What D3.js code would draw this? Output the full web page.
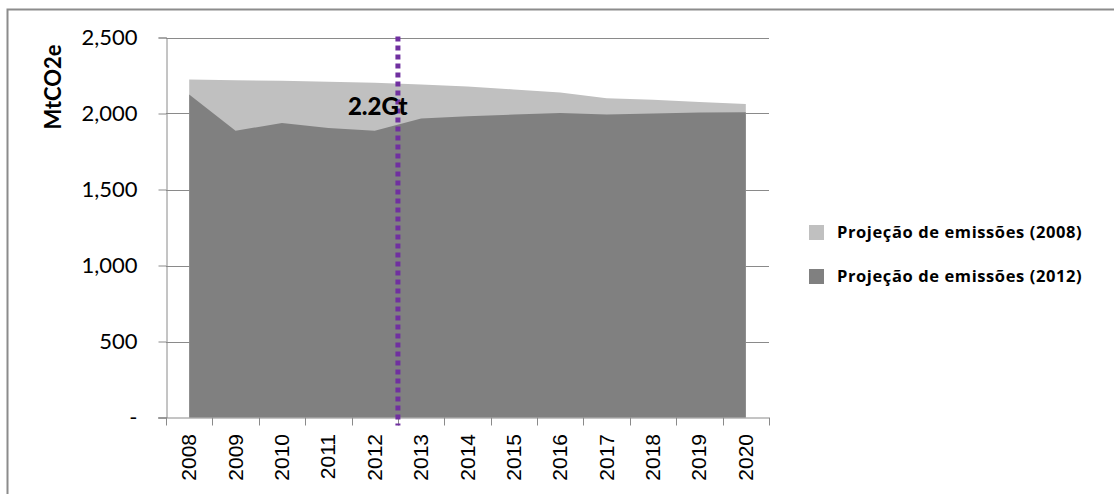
<!DOCTYPE html>
<html>
<head>
<meta charset="utf-8">
<script src="https://cdn.jsdelivr.net/npm/d3@7"></script>
<style>
  html, body { margin: 0; padding: 0; background: #fff; }
  svg { display: block; }
</style>
</head>
<body>
<svg id="chart" width="1114" height="494"></svg>
<script>
// Anos da projeção
const years = ["2008","2009","2010","2011","2012","2013","2014","2015","2016","2017","2018","2019","2020"];
// Projeção de emissões feita em 2008 (MtCO2e)
const proj2008 = [2223, 2219, 2215, 2209, 2202, 2190, 2177, 2158, 2138, 2100, 2090, 2076, 2063];
// Projeção de emissões feita em 2012 (MtCO2e)
const proj2012 = [2125, 1886, 1938, 1905, 1886, 1967, 1982, 1993, 2004, 1993, 2000, 2006, 2008];
// Valores do eixo vertical
const yTicks = [0, 500, 1000, 1500, 2000, 2500];
const seriesNames = ["Projeção de emissões (2008)", "Projeção de emissões (2012)"];
const markerYear = "2013";
const markerLabel = "2.2Gt";

const svg = d3.select("#chart");
const plotLeft = 166, plotRight = 769, plotTop = 37.5, plotBottom = 417.5;

const x = d3.scaleBand().domain(years).range([plotLeft, plotRight]).padding(0);
const y = d3.scaleLinear().domain([0, 2500]).range([plotBottom, plotTop]);
const cx = d => x(d) + x.bandwidth() / 2;

// moldura externa
svg.append("rect")
  .attr("x", 7.5).attr("y", 9.5).attr("width", 1130).attr("height", 520)
  .attr("fill", "none").attr("stroke", "#8c8c8c").attr("stroke-width", 2);

// linhas de grade
svg.append("g").selectAll("line")
  .data(yTicks.filter(t => t > 0))
  .join("line")
  .attr("x1", plotLeft).attr("x2", plotRight)
  .attr("y1", d => Math.round(y(d)) + 0.5).attr("y2", d => Math.round(y(d)) + 0.5)
  .attr("stroke", "#8a8a8a").attr("stroke-width", 1);

// áreas (2008 atrás, 2012 à frente)
const area = vals => d3.area()
  .x((d, i) => cx(years[i]))
  .y0(y(0))
  .y1(d => y(d))(vals);

svg.append("path").attr("d", area(proj2008)).attr("fill", "#c0c0c0");
svg.append("path").attr("d", area(proj2012)).attr("fill", "#808080");

// eixo Y
const yAxis = d3.axisLeft(y)
  .tickValues(yTicks)
  .tickSize(8)
  .tickPadding(21)
  .tickFormat(d => d === 0 ? "-" : d3.format(",")(d));
const gy = svg.append("g").attr("transform", `translate(${plotLeft + 0.5},0)`).call(yAxis);
gy.select(".domain").attr("stroke", "#8a8a8a");
gy.selectAll(".tick line").attr("stroke", "#8a8a8a");
gy.selectAll(".tick text")
  .attr("font-family", "Lato, 'Open Sans', sans-serif")
  .attr("font-size", 22)
  .attr("fill", "#000");

// eixo X: marcas nos limites das categorias
const boundaries = years.map(d => x(d)).concat([x(years[years.length - 1]) + x.bandwidth()]);
const gx = svg.append("g");
gx.append("line")
  .attr("x1", plotLeft - 8).attr("x2", plotRight)
  .attr("y1", y(0) + 0.5).attr("y2", y(0) + 0.5)
  .attr("stroke", "#8a8a8a");
gx.selectAll("line.tk")
  .data(boundaries)
  .join("line")
  .attr("class", "tk")
  .attr("x1", d => Math.round(d) + 0.5).attr("x2", d => Math.round(d) + 0.5)
  .attr("y1", y(0)).attr("y2", y(0) + 8)
  .attr("stroke", "#8a8a8a");
gx.selectAll("text")
  .data(years)
  .join("text")
  .attr("transform", d => `translate(${cx(d) + 7},434) rotate(-90)`)
  .attr("text-anchor", "end")
  .attr("font-family", "'Liberation Sans', Arial, sans-serif")
  .attr("font-size", 21)
  .attr("fill", "#000")
  .text(d => d);

// título do eixo Y
svg.append("text")
  .attr("transform", "translate(61,87) rotate(-90)")
  .attr("text-anchor", "middle")
  .attr("font-family", "Lato, 'Open Sans', sans-serif")
  .attr("font-weight", "bold")
  .attr("font-size", 22)
  .attr("fill", "#000")
  .text("MtCO2e");

// linha vertical pontilhada e rótulo
const mx = x(markerYear);
svg.append("line")
  .attr("x1", mx).attr("x2", mx)
  .attr("y1", plotTop - 1).attr("y2", y(0) + 8)
  .attr("stroke", "#7030a0").attr("stroke-width", 5)
  .attr("stroke-dasharray", "5,4");
svg.append("text")
  .attr("x", mx - 50).attr("y", 115)
  .attr("font-family", "Lato, 'Open Sans', sans-serif")
  .attr("font-weight", "900")
  .attr("font-size", 24)
  .attr("fill", "#000")
  .text(markerLabel);

// legenda
const colors = ["#c0c0c0", "#808080"];
const lg = svg.append("g").selectAll("g")
  .data(seriesNames)
  .join("g")
  .attr("transform", (d, i) => `translate(809,${225 + i * 44})`);
lg.append("rect").attr("width", 15).attr("height", 15).attr("fill", (d, i) => colors[i]);
lg.append("text")
  .attr("x", 28).attr("y", 13)
  .attr("font-family", "'Open Sans', Lato, sans-serif")
  .attr("font-weight", "bold")
  .attr("font-size", 16.5)
  .attr("letter-spacing", 0.6)
  .attr("fill", "#000")
  .text(d => d);
</script>
</body>
</html>
